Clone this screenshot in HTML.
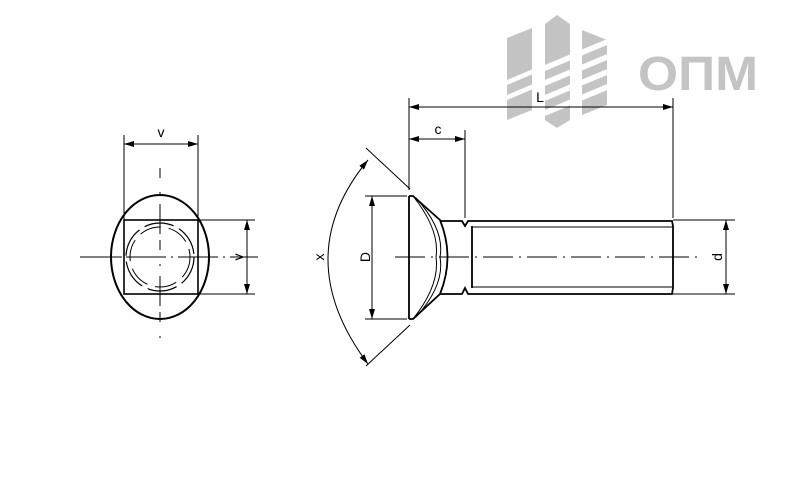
<!DOCTYPE html>
<html><head><meta charset="utf-8"><style>html,body{margin:0;padding:0;background:#fff}svg{display:block}</style></head><body>
<svg width="812" height="484" viewBox="0 0 812 484" xmlns="http://www.w3.org/2000/svg" font-family="Liberation Sans, sans-serif">
<defs>
<marker id="a" viewBox="0 0 10 6" refX="10" refY="3" markerWidth="10" markerHeight="6" orient="auto-start-reverse" markerUnits="userSpaceOnUse"><path d="M0,0 L10,3 L0,6 z" fill="#000"/></marker>
</defs>
<g fill="#c4c4c4">
<polygon points="507,38 532,28 532,110 507,120"/>
<polygon points="545,24 557,15 570,24 570,120 557,128 545,120"/>
<polygon points="582,30 607,40 607,105 582,115"/>
</g>
<g fill="#fff">
<polygon points="500,83 540,66 540,71 500,88"/>
<polygon points="500,98 540,81 540,86 500,103"/>
<polygon points="540,67 612,37 612,43 540,73"/>
<polygon points="540,82 612,52 612,58 540,88"/>
<polygon points="540,97 612,67 612,73 540,103"/>
<polygon points="540,112 612,82 612,88 540,118"/>
</g>
<text x="638" y="90" font-size="48" font-weight="bold" fill="#c4c4c4" textLength="120" lengthAdjust="spacingAndGlyphs">ОПМ</text>

<g stroke="#000" fill="none" stroke-width="1">
<line x1="124" y1="135" x2="124" y2="220"/>
<line x1="198" y1="135" x2="198" y2="220"/>
<line x1="124" y1="144" x2="198" y2="144" marker-start="url(#a)" marker-end="url(#a)"/>
<line x1="198" y1="220" x2="255" y2="220"/>
<line x1="198" y1="294" x2="255" y2="294"/>
<line x1="247" y1="220" x2="247" y2="294" marker-start="url(#a)" marker-end="url(#a)"/>
<ellipse cx="160" cy="257" rx="49" ry="62" stroke-width="2"/>
<rect x="124" y="220" width="74" height="74" stroke-width="1.6"/>
<circle cx="160" cy="257" r="34" stroke-dasharray="30 6" stroke-width="1.2"/>
<circle cx="160" cy="257" r="30" stroke-dasharray="22 8" stroke-width="1"/>
<line x1="80" y1="257" x2="122" y2="257"/>
<line x1="126" y1="257" x2="258" y2="257" stroke-dasharray="40 5 2 5"/>
<line x1="160" y1="168" x2="160" y2="345" stroke-dasharray="10 14 2 10 30 6"/>

<line x1="409" y1="98" x2="409" y2="190"/>
<line x1="673" y1="98" x2="673" y2="218"/>
<line x1="409" y1="107" x2="673" y2="107" marker-start="url(#a)" marker-end="url(#a)"/>
<line x1="465" y1="130" x2="465" y2="218"/>
<line x1="409" y1="139" x2="465" y2="139" marker-start="url(#a)" marker-end="url(#a)"/>
<line x1="365" y1="196" x2="407" y2="196"/>
<line x1="365" y1="319" x2="407" y2="319"/>
<line x1="372" y1="196" x2="372" y2="319" marker-start="url(#a)" marker-end="url(#a)"/>
<line x1="673" y1="220" x2="735" y2="220"/>
<line x1="673" y1="294" x2="735" y2="294"/>
<line x1="726" y1="220" x2="726" y2="294" marker-start="url(#a)" marker-end="url(#a)"/>
<line x1="410" y1="189" x2="366" y2="148"/>
<line x1="410" y1="325" x2="366" y2="366"/>
<path d="M368,160 Q288,257 368,364" marker-start="url(#a)" marker-end="url(#a)"/>
<line x1="395" y1="257" x2="700" y2="257" stroke-dasharray="30 6 2 6"/>
</g>
<g stroke="#000" fill="none" stroke-width="1.8">
<path d="M409,196 L409,319 M409,196 L413,196 L440,220 Q455,257 440,294 L413,319 L409,319"/>
<path d="M440,221 L462,221 L465,226 L468,221 L672,221 L673,226 L673,288 L672,294 L468,294 L465,288 L462,294 L440,294"/>
<line x1="472" y1="226" x2="472" y2="288"/>
</g>
<g stroke="#000" fill="none" stroke-width="1">
<path d="M413,196 Q440,230 436,257 Q440,285 413,319"/>
<path d="M416,198 Q445,230 440,257 Q445,285 416,317"/>
<line x1="472" y1="227" x2="672" y2="227"/>
<line x1="472" y1="287" x2="672" y2="287"/>
</g>
<g font-size="14" fill="#000" text-anchor="middle">
<text x="161" y="137">v</text>
<text x="540" y="102">L</text>
<text x="438" y="134">c</text>
<text transform="translate(239,257) rotate(-90)" dy="4">v</text>
<text transform="translate(320,257) rotate(-90)" dy="4">x</text>
<text transform="translate(366,257) rotate(-90)" dy="4">D</text>
<text transform="translate(718,257) rotate(-90)" dy="4">d</text>
</g>
</svg>
</body></html>
